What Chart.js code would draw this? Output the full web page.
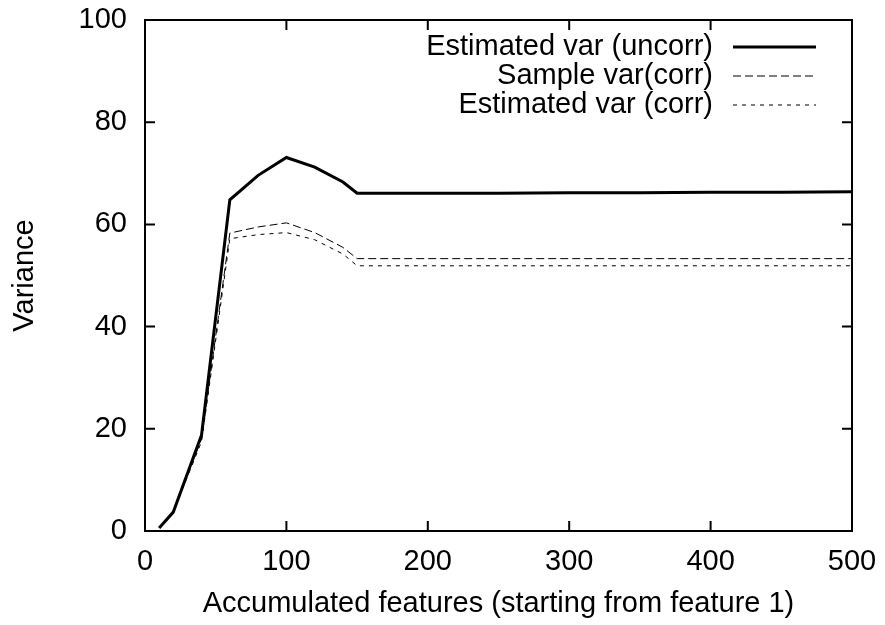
<!DOCTYPE html>
<html>
<head>
<meta charset="utf-8">
<script src="https://cdn.jsdelivr.net/npm/chart.js@4.4.0/dist/chart.umd.min.js"></script>
<style>
  body { margin: 0; background: #fff; }
  canvas { display: block; }
</style>
</head>
<body>
<canvas id="myChart" width="885" height="625"></canvas>
<script>
// Datos
const features = [10, 20, 40, 60, 80, 100, 120, 140, 150, 200, 250, 300, 350, 400, 450, 500];
const estimatedUncorr = [0.6, 3.7, 18.8, 64.8, 69.6, 73.1, 71.2, 68.3, 66.1, 66.1, 66.1, 66.2, 66.2, 66.3, 66.3, 66.4];
const sampleCorr = [0.6, 3.7, 18.0, 58.3, 59.5, 60.3, 58.4, 55.5, 53.3, 53.3, 53.3, 53.3, 53.3, 53.3, 53.3, 53.3];
const estimatedCorr = [0.6, 3.7, 17.5, 57.2, 58.0, 58.4, 57.0, 54.2, 51.9, 51.9, 51.9, 51.9, 51.9, 51.9, 51.9, 51.9];
const seriesNames = ['Estimated var (uncorr)', 'Sample var(corr)', 'Estimated var (corr)'];
const xTicks = [0, 100, 200, 300, 400, 500];
const yTicks = [0, 20, 40, 60, 80, 100];

const FONT = "'Liberation Sans', Arial, sans-serif";
const FONT_SIZE = 29;

const toPoints = (ys) => features.map((x, i) => ({ x: x, y: ys[i] }));

// Marco con ticks hacia adentro (estilo gnuplot) y leyenda
const framePlugin = {
  id: 'frame',
  afterDatasetsDraw(chart) {
    const { ctx, chartArea: a, scales } = chart;
    ctx.save();
    ctx.strokeStyle = '#000';
    ctx.lineWidth = 2;
    ctx.strokeRect(a.left, a.top, a.right - a.left, a.bottom - a.top);

    const tl = 10;
    ctx.beginPath();
    xTicks.forEach(v => {
      const px = scales.x.getPixelForValue(v);
      ctx.moveTo(px, a.bottom); ctx.lineTo(px, a.bottom - tl);
      ctx.moveTo(px, a.top); ctx.lineTo(px, a.top + tl);
    });
    yTicks.forEach(v => {
      const py = scales.y.getPixelForValue(v);
      ctx.moveTo(a.left, py); ctx.lineTo(a.left + tl, py);
      ctx.moveTo(a.right, py); ctx.lineTo(a.right - tl, py);
    });
    ctx.stroke();

    // leyenda
    ctx.font = FONT_SIZE + 'px ' + FONT;
    ctx.fillStyle = '#000';
    ctx.textAlign = 'right';
    ctx.textBaseline = 'middle';
    const rows = [47, 76, 105];
    chart.data.datasets.forEach((ds, i) => {
      ctx.fillText(ds.label, 713, rows[i]);
      ctx.beginPath();
      ctx.lineWidth = ds.borderWidth;
      ctx.setLineDash(ds.borderDash || []);
      ctx.moveTo(733, rows[i]);
      ctx.lineTo(816, rows[i]);
      ctx.stroke();
      ctx.setLineDash([]);
    });
    ctx.restore();
  }
};

const pokemonChart = document.getElementById('myChart');

const chart = new Chart(pokemonChart, {
  type: 'scatter',
  data: {
    datasets: [
      {
        label: seriesNames[0],
        data: toPoints(estimatedUncorr),
        showLine: true,
        borderColor: '#000',
        borderWidth: 3,
        pointRadius: 0,
      },
      {
        label: seriesNames[1],
        data: toPoints(sampleCorr),
        showLine: true,
        borderColor: '#000',
        borderWidth: 1,
        borderDash: [8, 4],
        pointRadius: 0,
      },
      {
        label: seriesNames[2],
        data: toPoints(estimatedCorr),
        showLine: true,
        borderColor: '#000',
        borderWidth: 1,
        borderDash: [4, 5],
        pointRadius: 0,
      },
    ],
  },
  options: {
    responsive: false,
    animation: false,
    devicePixelRatio: 1,
    layout: { padding: { top: 20, right: 33, left: 0, bottom: 0 } },
    plugins: {
      legend: { display: false },
      tooltip: { enabled: false },
    },
    scales: {
      x: {
        type: 'linear',
        min: 0,
        max: 500,
        afterFit: (scale) => {
          scale.height = 94;
          scale.paddingLeft = 0;
          scale.paddingRight = 0;
        },
        afterBuildTicks: (scale) => { scale.ticks = xTicks.map(v => ({ value: v })); },
        grid: { display: false, drawTicks: false },
        border: { display: false },
        ticks: { color: '#000', padding: 14, font: { family: FONT, size: FONT_SIZE } },
        title: {
          display: true,
          text: 'Accumulated features (starting from feature 1)',
          color: '#000',
          padding: 4,
          font: { family: FONT, size: FONT_SIZE },
        },
      },
      y: {
        min: 0,
        max: 100,
        afterFit: (scale) => {
          scale.width = 145;
          scale.paddingTop = 0;
          scale.paddingBottom = 0;
        },
        afterBuildTicks: (scale) => { scale.ticks = yTicks.map(v => ({ value: v })); },
        grid: { display: false, drawTicks: false },
        border: { display: false },
        ticks: { color: '#000', padding: 18, font: { family: FONT, size: FONT_SIZE } },
        title: {
          display: true,
          text: 'Variance',
          color: '#000',
          padding: 8,
          font: { family: FONT, size: FONT_SIZE },
        },
      },
    },
  },
  plugins: [framePlugin],
});
</script>
</body>
</html>
